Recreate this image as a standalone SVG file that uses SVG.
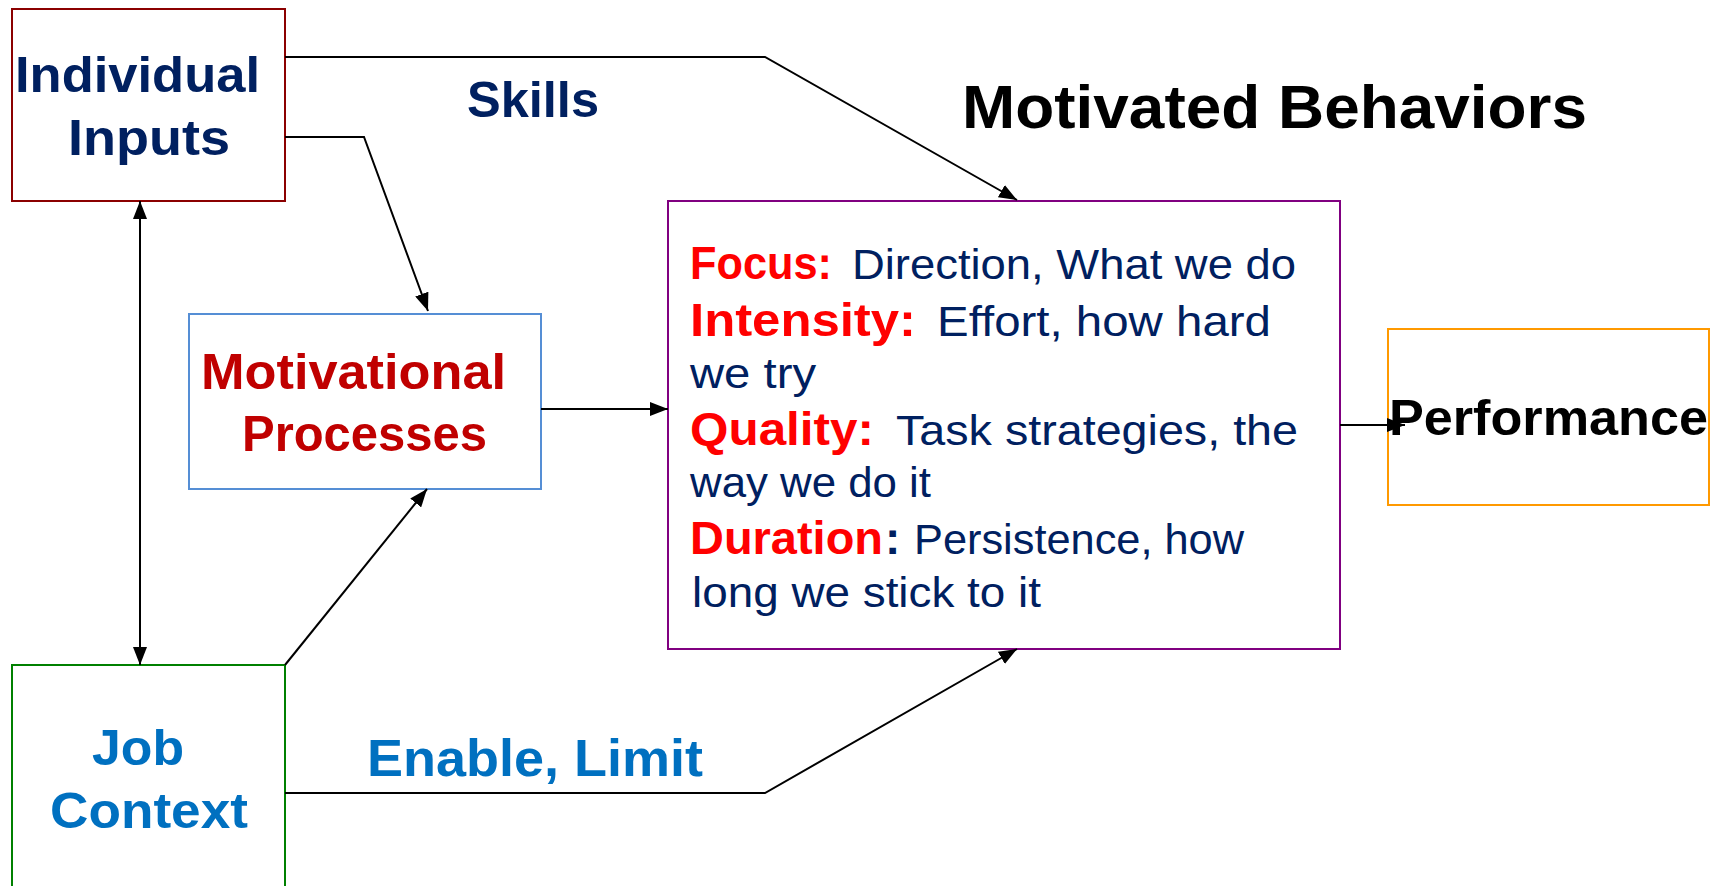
<svg xmlns="http://www.w3.org/2000/svg" width="1714" height="886" viewBox="0 0 1714 886">
<style>
text{font-family:"Liberation Sans",Arial,sans-serif;}
.b{font-weight:bold;}
.box{fill:#fff;stroke-width:2;}
.conn{fill:none;stroke:#000;stroke-width:2;}
.navy{fill:#002060;}
.red{fill:#FF0000;}
.dred{fill:#C00000;}
.blue{fill:#0070C0;}
.blk{fill:#000;}
.t50{font-size:50px;}
.tb{font-size:46px;font-weight:bold;}
.tr{font-size:42px;}
</style>
<defs>
<marker id="arr" markerUnits="userSpaceOnUse" markerWidth="18" markerHeight="14" refX="18" refY="7" orient="auto-start-reverse">
<path d="M0,0 L18,7 L0,14 z" fill="#000"/>
</marker>
</defs>
<rect width="1714" height="886" fill="#fff"/>

<g id="individual-inputs">
<rect class="box" x="12" y="9" width="273" height="192" stroke="#8B0000"/>
<text class="b t50 navy" x="15" y="92" textLength="245" lengthAdjust="spacingAndGlyphs">Individual</text>
<text class="b t50 navy" x="68" y="155" textLength="162" lengthAdjust="spacingAndGlyphs">Inputs</text>
</g>

<g id="motivational-processes">
<rect class="box" x="189" y="314" width="352" height="175" stroke="#558ED5"/>
<text class="b t50 dred" x="201" y="389" textLength="305" lengthAdjust="spacingAndGlyphs">Motivational</text>
<text class="b t50 dred" x="242" y="451" textLength="245" lengthAdjust="spacingAndGlyphs">Processes</text>
</g>

<g id="job-context">
<rect class="box" x="12" y="665" width="273" height="240" stroke="#008000"/>
<text class="b t50 blue" x="92" y="765" textLength="92" lengthAdjust="spacingAndGlyphs">Job</text>
<text class="b t50 blue" x="50" y="828" textLength="198" lengthAdjust="spacingAndGlyphs">Context</text>
</g>

<g id="motivated-behaviors">
<text class="b blk" style="font-size:62px" x="962" y="128" textLength="625" lengthAdjust="spacingAndGlyphs">Motivated Behaviors</text>
<rect class="box" x="668" y="201" width="672" height="448" stroke="#800080"/>
<text class="tb red" x="690" y="279" textLength="142" lengthAdjust="spacingAndGlyphs">Focus:</text>
<text class="tr navy" x="852" y="279" textLength="444" lengthAdjust="spacingAndGlyphs">Direction, What we do</text>
<text class="tb red" x="690" y="336" textLength="226" lengthAdjust="spacingAndGlyphs">Intensity:</text>
<text class="tr navy" x="937" y="336" textLength="334" lengthAdjust="spacingAndGlyphs">Effort, how hard</text>
<text class="tr navy" x="690" y="388" textLength="126" lengthAdjust="spacingAndGlyphs">we try</text>
<text class="tb red" x="690" y="445" textLength="184" lengthAdjust="spacingAndGlyphs">Quality:</text>
<text class="tr navy" x="896" y="445" textLength="402" lengthAdjust="spacingAndGlyphs">Task strategies, the</text>
<text class="tr navy" x="690" y="497" textLength="241" lengthAdjust="spacingAndGlyphs">way we do it</text>
<text class="tb red" x="690" y="554" textLength="193" lengthAdjust="spacingAndGlyphs">Duration</text>
<text class="tb navy" x="885" y="554">:</text>
<text class="tr navy" x="914" y="554" textLength="330" lengthAdjust="spacingAndGlyphs">Persistence, how</text>
<text class="tr navy" x="692" y="607" textLength="349" lengthAdjust="spacingAndGlyphs">long we stick to it</text>
</g>

<g id="performance">
<rect class="box" x="1388" y="329" width="321" height="176" stroke="#FF9900"/>
<text class="b t50 blk" x="1389" y="435" textLength="319" lengthAdjust="spacingAndGlyphs">Performance</text>
</g>

<g id="connectors">
<polyline class="conn" points="285,57 765,57 1017,200" marker-end="url(#arr)"/>
<polyline class="conn" points="285,137 364,137 428,311" marker-end="url(#arr)"/>
<line class="conn" x1="140" y1="201" x2="140" y2="665" marker-start="url(#arr)" marker-end="url(#arr)"/>
<line class="conn" x1="285" y1="665" x2="427" y2="489" marker-end="url(#arr)"/>
<line class="conn" x1="541" y1="409" x2="668" y2="409" marker-end="url(#arr)"/>
<polyline class="conn" points="285,793 765,793 1017,649" marker-end="url(#arr)"/>
<line class="conn" x1="1340" y1="425" x2="1405" y2="425" marker-end="url(#arr)"/>
<text class="b t50 navy" x="467" y="117" textLength="132" lengthAdjust="spacingAndGlyphs">Skills</text>
<text class="b blue" style="font-size:52px" x="367" y="776" textLength="336" lengthAdjust="spacingAndGlyphs">Enable, Limit</text>
</g>
</svg>
